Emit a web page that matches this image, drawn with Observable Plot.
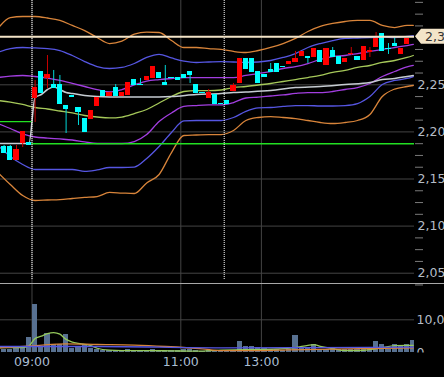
<!DOCTYPE html>
<html><head><meta charset="utf-8">
<script src="https://cdn.jsdelivr.net/npm/d3@7"></script>
<script src="https://cdn.jsdelivr.net/npm/@observablehq/plot@0.6"></script>
<style>
html,body{margin:0;padding:0;background:#000;}
#chart{width:444px;height:377px;overflow:hidden;background:#000;position:relative;}
#chart svg{display:block;}
.sep{height:1px;background:#a8a8a8;width:444px;}
</style></head><body><div id="chart"></div>
<script>
// ---- candles (5-minute bars), index 0 = 09:00 ----
const firstIndex = -6;
const opens  = [2.1781,2.1845,2.1845,2.1707,2.1877,2.1887,
  2.2365,2.2631,2.2577,2.2493,2.2493,2.2270,2.2376,2.2259,2.2132,2.2132,2.2270,2.2439,2.2386,2.2471,2.2386,2.2397,2.2546,2.2503,2.2546,2.2577,2.2620,2.2514,2.2577,2.2567,2.2609,2.2631,2.2503,2.2418,2.2355,2.2397,2.2301,
  2.2323,2.2439,2.2514,2.2779,2.2769,2.2641,2.2609,2.2662,2.2716,2.2694,2.2716,2.2737,2.2811,2.2790,2.2790,2.2854,2.2705,2.2864,2.2790,2.2737,2.2826,2.2800,2.2758,2.2843,2.2896,2.3034,2.2885,2.2938,2.2832,2.2928,2.3010];
const highs  = [2.1962,2.1856,2.1856,2.1856,2.1994,2.1887,
  2.2546,2.2631,2.2811,2.2652,2.2599,2.2270,2.2376,2.2259,2.2132,2.2227,2.2365,2.2439,2.2408,2.2503,2.2418,2.2524,2.2546,2.2567,2.2588,2.2694,2.2620,2.2705,2.2577,2.2567,2.2609,2.2641,2.2503,2.2418,2.2450,2.2397,2.2301,
  2.2323,2.2514,2.2769,2.2779,2.2769,2.2641,2.2609,2.2726,2.2716,2.2694,2.2747,2.2854,2.2843,2.2790,2.2875,2.2854,2.2875,2.2896,2.2790,2.2769,2.2896,2.2800,2.2896,2.2896,2.3055,2.3034,2.2938,2.3002,2.2875,2.2981,2.3010];
const lows   = [2.1781,2.1771,2.1707,2.1707,2.1834,2.1866,
  2.2100,2.2408,2.2461,2.2461,2.2301,2.1983,2.2370,2.2068,2.1994,2.2132,2.2270,2.2376,2.2386,2.2386,2.2386,2.2397,2.2493,2.2493,2.2546,2.2577,2.2567,2.2493,2.2572,2.2556,2.2577,2.2514,2.2418,2.2413,2.2355,2.2301,2.2291,
  2.2301,2.2439,2.2514,2.2673,2.2631,2.2514,2.2588,2.2631,2.2641,2.2684,2.2716,2.2737,2.2811,2.2726,2.2790,2.2737,2.2705,2.2800,2.2726,2.2737,2.2811,2.2758,2.2758,2.2790,2.2896,2.2854,2.2822,2.2907,2.2832,2.2928,2.3010];
const closes = [2.1962,2.1771,2.1707,2.1803,2.1994,2.1866,
  2.2461,2.2408,2.2599,2.2461,2.2301,2.2248,2.2370,2.2206,2.1994,2.2227,2.2365,2.2376,2.2408,2.2386,2.2418,2.2524,2.2493,2.2493,2.2588,2.2694,2.2567,2.2503,2.2572,2.2556,2.2577,2.2609,2.2418,2.2413,2.2418,2.2301,2.2291,
  2.2301,2.2482,2.2769,2.2673,2.2631,2.2514,2.2588,2.2631,2.2641,2.2684,2.2747,2.2769,2.2843,2.2780,2.2875,2.2737,2.2875,2.2800,2.2726,2.2769,2.2832,2.2758,2.2896,2.2864,2.2981,2.2854,2.2875,2.2907,2.2875,2.2981,2.3010];
const volumes = [600,800,800,1400,1400,4500,
  14600,1400,5700,2400,2400,5500,1200,1400,2400,1100,800,600,500,700,500,800,600,500,600,1000,700,600,500,600,900,900,600,400,600,700,500,
  600,700,3500,1800,1800,1400,1100,800,800,600,1000,5200,1400,1400,2400,800,800,1100,800,1000,800,1000,1000,800,3500,2400,800,2600,1900,2400,3700];

// ---- Bollinger bands (sampled at bar indices) ----
const bandIdx = [-6,-4,-2,0,2,4,6,8,10,12,14,16,18,20,22,24,26,28,30,32,34,36,38,40,42,44,46,48,50,52,54,56,58,60,61];
const upper3 = [2.3098,2.3214,2.3225,2.3225,2.3209,2.3183,2.3130,2.3076,2.3002,2.2938,2.2964,2.3039,2.3060,2.3055,2.2970,2.2896,2.2896,2.2885,2.2875,2.2854,2.2843,2.2864,2.2896,2.2938,2.2992,2.3066,2.3119,2.3151,2.3172,2.3183,2.3183,2.3130,2.3108,2.3130,2.3130];
const upper2 = [2.2843,2.2885,2.2896,2.2891,2.2885,2.2864,2.2811,2.2747,2.2694,2.2673,2.2684,2.2726,2.2790,2.2822,2.2785,2.2752,2.2737,2.2742,2.2747,2.2742,2.2737,2.2742,2.2758,2.2790,2.2832,2.2896,2.2938,2.2970,2.2992,2.2997,2.3002,2.3008,2.3002,2.3013,2.3023];
const upper1 = [2.2577,2.2593,2.2599,2.2588,2.2572,2.2546,2.2514,2.2482,2.2450,2.2424,2.2450,2.2498,2.2540,2.2556,2.2567,2.2577,2.2577,2.2577,2.2577,2.2577,2.2599,2.2620,2.2641,2.2673,2.2694,2.2726,2.2769,2.2800,2.2811,2.2832,2.2854,2.2875,2.2896,2.2917,2.2928];
const middle = [2.2333,2.2317,2.2291,2.2259,2.2243,2.2222,2.2201,2.2174,2.2158,2.2148,2.2158,2.2195,2.2238,2.2307,2.2376,2.2429,2.2439,2.2439,2.2445,2.2471,2.2482,2.2498,2.2514,2.2535,2.2556,2.2577,2.2599,2.2631,2.2652,2.2684,2.2705,2.2737,2.2758,2.2790,2.2811];
const lower1 = [2.2089,2.2036,2.1978,2.1946,2.1935,2.1925,2.1914,2.1893,2.1877,2.1877,2.1877,2.1898,2.1972,2.2110,2.2201,2.2270,2.2280,2.2286,2.2286,2.2312,2.2360,2.2370,2.2381,2.2392,2.2408,2.2418,2.2418,2.2429,2.2450,2.2471,2.2514,2.2588,2.2641,2.2689,2.2705];
const lower2 = [2.1856,2.1739,2.1654,2.1601,2.1601,2.1601,2.1601,2.1580,2.1596,2.1622,2.1622,2.1627,2.1718,2.1845,2.1994,2.2116,2.2121,2.2121,2.2121,2.2153,2.2217,2.2254,2.2259,2.2270,2.2280,2.2280,2.2275,2.2275,2.2280,2.2301,2.2376,2.2503,2.2546,2.2567,2.2588];
const lower3 = [2.1569,2.1442,2.1325,2.1272,2.1277,2.1282,2.1293,2.1304,2.1314,2.1357,2.1351,2.1346,2.1458,2.1548,2.1781,2.1962,2.1967,2.1972,2.1972,2.2015,2.2121,2.2153,2.2163,2.2153,2.2142,2.2121,2.2100,2.2089,2.2100,2.2121,2.2185,2.2376,2.2455,2.2482,2.2493];

// ---- VWAP-like grey line ----
const vwapIdx = [-6,-4,-2,-1,0,1,2,3,4,5,6,8,10,14,18,22,26,30,32,34,38,42,46,50,54,56,58,60,61];
const vwap = [2.1877,2.1877,2.1877,2.1877,2.2365,2.2397,2.2450,2.2477,2.2450,2.2418,2.2408,2.2386,2.2376,2.2370,2.2370,2.2376,2.2397,2.2408,2.2418,2.2424,2.2439,2.2471,2.2482,2.2503,2.2524,2.2556,2.2567,2.2588,2.2599];

// ---- previous close lines ----
const prevCloseFrom = [-6.5, -0.5];
const prevCloseTo = [-0.5, 61.5];
const prevCloseValue = [2.2110, 2.1874];
const lastPrice = 2.3010;
const lastPriceLabel = "2,301";

// ---- volume moving averages ----
const volGreenIdx = [-6,-4,-2,-1,0,1,2,3,4,5,6,7,8,9,10,12,14,18,22,26,30,34,38,42,44,45,46,48,50,52,54,56,58,60,61];
const volGreen = [1500,1500,1500,2000,4300,5000,5800,6100,5600,4000,3200,2800,2500,2100,1300,700,600,600,500,400,700,900,1000,1500,2200,2400,1900,1200,600,600,900,1500,2100,2200,2200];
const volOrangeIdx = [-6,0,5,10,16,21,27,30,36,41,54,61];
const volOrange = [1400,2100,2650,2450,2240,1830,1120,600,600,830,1220,1430];
const volBlueIdx = [-6,10,30,45,61];
const volBlue = [1830,1830,1430,1500,1620];

// ---- axes ----
const priceTicks = [2.05, 2.10, 2.15, 2.20, 2.25];
const volumeTicks = [0, 10000];
const timeTickIdx = [-0.5, 23.5, 36.5];
const timeTickLabels = ["09:00", "11:00", "13:00"];
const sessionBreakIdx = [-0.5, 30.5];

// ---------------------------------------------------------------
const candles = opens.map((o, k) => ({i: firstIndex + k, open: o, high: highs[k], low: lows[k], close: closes[k], volume: volumes[k]}));
const bandNames = [["upper3", upper3, "#d8843a"], ["lower3", lower3, "#d8843a"], ["upper2", upper2, "#5656e2"], ["lower2", lower2, "#5656e2"], ["upper1", upper1, "#a23ee0"], ["lower1", lower1, "#a23ee0"], ["middle", middle, "#a6c95a"]];
const bands = bandNames.flatMap(([name, vals, color]) => vals.map((v, k) => ({name, color, i: bandIdx[k], v})));
const vwapData = vwap.map((v, k) => ({i: vwapIdx[k], v}));
const prevClose = prevCloseValue.map((v, k) => ({x1: prevCloseFrom[k], x2: prevCloseTo[k], v}));
const volMA = [
  ...volGreen.map((v, k) => ({name: "g", color: "#94c85a", i: volGreenIdx[k], v})),
  ...volOrange.map((v, k) => ({name: "o", color: "#d8843a", i: volOrangeIdx[k], v})),
  ...volBlue.map((v, k) => ({name: "b", color: "#5656e2", i: volBlueIdx[k], v}))
];
const minorTicks = d3.range(2.0375, 2.345, 0.0125).map(v => +v.toFixed(4)).filter(v => Math.abs(v * 20 - Math.round(v * 20)) > 1e-6);

const W = 444;
const xDomain = [-5.5806, 61.194];
const half = 0.42;
const up = d => d.close >= d.open;
const font = {background: "#000", color: "#b4bcc6", fontFamily: "DejaVu Sans, sans-serif", fontSize: "12.5px", overflow: "visible"};
const fmtPrice = d => d.toFixed(2).replace(".", ",");

const price = Plot.plot({
  width: W, height: 283,
  marginLeft: 0, marginRight: 30, marginTop: 0, marginBottom: 0,
  style: font,
  x: {domain: xDomain, axis: null, label: null},
  y: {domain: [2.03907, 2.33949], axis: null, label: null},
  marks: [
    Plot.gridY(priceTicks, {stroke: "#444", strokeOpacity: 1}),
    Plot.gridX(timeTickIdx, {stroke: "#444", strokeOpacity: 1}),
    Plot.axisY(priceTicks, {anchor: "right", tickSize: 0, tickPadding: 3, tickFormat: fmtPrice, fill: "#b4bcc6", label: null}),
    Plot.axisY(minorTicks, {anchor: "right", tickSize: 8, tickFormat: () => "", stroke: "#7a7a7a", label: null}),
    Plot.line(bands, {x: "i", y: "v", z: "name", stroke: "color", strokeWidth: 1.3, curve: "monotone-x", clip: true}),
    Plot.line(vwapData, {x: "i", y: "v", stroke: "#c6ccd2", strokeWidth: 1.5, curve: "monotone-x", clip: true}),
    Plot.ruleY(prevClose, {x1: "x1", x2: "x2", y: "v", stroke: "#22e022", strokeWidth: 1.3, clip: true}),
    Plot.ruleX(sessionBreakIdx, {stroke: "#fff", strokeDasharray: "1,1", insetBottom: 4}),
    Plot.ruleX(candles, {x: "i", y1: "low", y2: "high", stroke: d => up(d) ? "#c80000" : "#00d8d8", clip: true}),
    Plot.rect(candles, {x1: d => d.i - half, x2: d => d.i + half, y1: "open", y2: "close", fill: d => up(d) ? "#ff0000" : "#00ffff", insetTop: -0.5, insetBottom: -0.5, clip: true, shapeRendering: "crispEdges"}),
    Plot.ruleY([lastPrice], {stroke: "#f3e4c8", strokeWidth: 2})
  ]
});

const volume = Plot.plot({
  width: W, height: 93,
  marginLeft: 0, marginRight: 30, marginTop: 0, marginBottom: 25,
  style: font,
  x: {domain: xDomain, axis: null, label: null},
  y: {domain: [0, 20800], axis: null, label: null},
  marks: [
    Plot.gridY([10000], {stroke: "#444", strokeOpacity: 1}),
    Plot.gridX(timeTickIdx, {stroke: "#444", strokeOpacity: 1}),
    Plot.axisY(volumeTicks, {anchor: "right", tickSize: 0, tickPadding: 2, tickFormat: d3.format(","), fill: "#b4bcc6", label: null}),
    Plot.axisX(timeTickIdx, {anchor: "bottom", tickSize: 0, tickPadding: 5, tickFormat: d => timeTickLabels[timeTickIdx.indexOf(d)], fill: "#a9bdd2", label: null}),
    Plot.rectY(candles, {x1: d => d.i - half, x2: d => d.i + half, y: "volume", fill: "#587191", clip: true, shapeRendering: "crispEdges"}),
    Plot.line(volMA, {x: "i", y: "v", z: "name", stroke: "color", strokeWidth: 1.3, curve: "monotone-x", clip: true})
  ]
});

// current-price badge in the right margin
{
  const y = price.scale("y").apply(lastPrice);
  const svg = d3.select(price);
  const g = svg.append("g");
  g.append("path")
    .attr("d", `M415,${y} L421,${y - 7.5} L450,${y - 7.5} L450,${y + 7.5} L421,${y + 7.5} Z`)
    .attr("fill", "#f3e4c8");
  g.append("text").attr("x", 425).attr("y", y).attr("dy", "0.36em")
    .attr("text-anchor", "start")
    .attr("fill", "#333").attr("font-size", "12.5px").text(lastPriceLabel);
}
// clip the volume axis labels at the baseline
{
  const svg = d3.select(volume);
  const base = volume.scale("y").apply(0);
  svg.append("defs").append("clipPath").attr("id", "vclip")
    .append("rect").attr("x", 300).attr("y", -5).attr("width", 200).attr("height", base + 5);
  svg.selectAll('g[aria-label="y-axis tick label"]').attr("clip-path", "url(#vclip)");
}

const root = document.getElementById("chart");
root.append(price);
const sep = document.createElement("div"); sep.className = "sep"; root.append(sep);
root.append(volume);
</script>
</body></html>
